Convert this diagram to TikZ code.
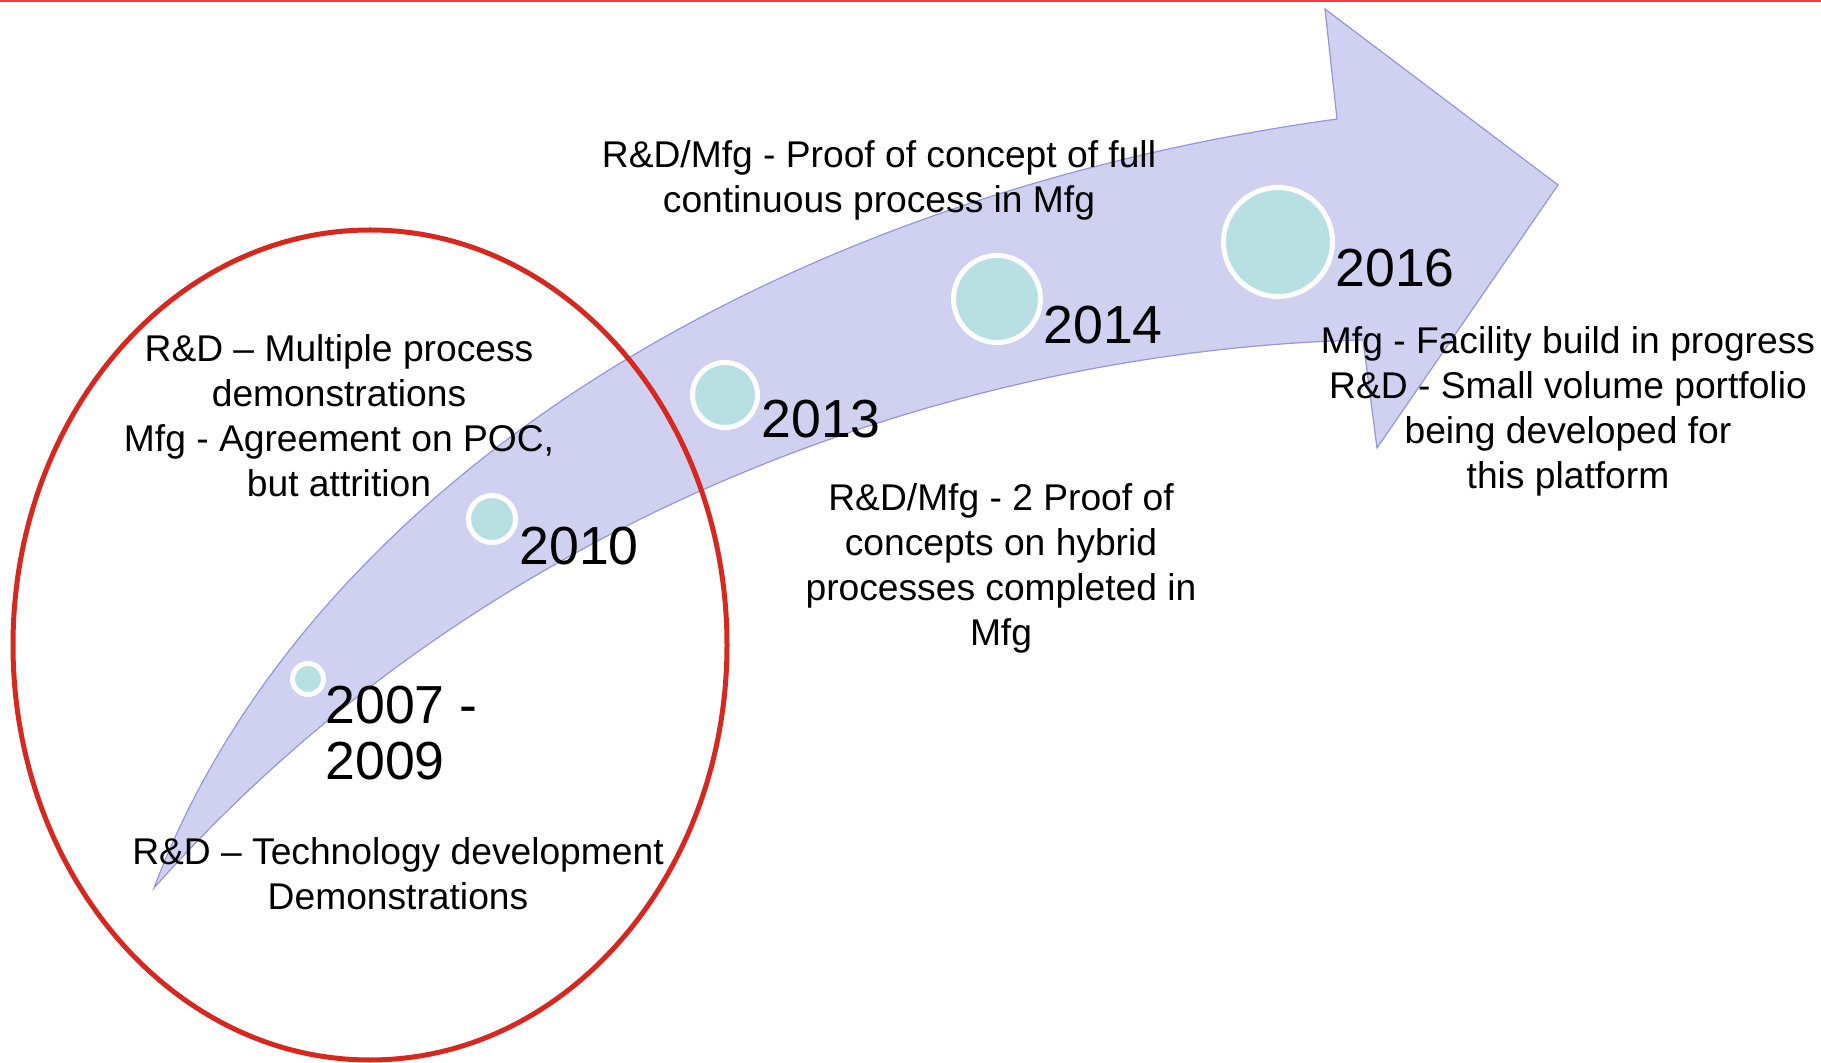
\documentclass[tikz,border=0pt]{standalone}
\usepackage{fontspec}
\setmainfont{Liberation Sans}
\usepackage{xcolor}
\definecolor{bandfill}{RGB}{208,208,240}
\definecolor{bandedge}{RGB}{150,150,220}
\definecolor{dotfill}{RGB}{184,223,225}
\definecolor{ringred}{RGB}{214,40,30}
\definecolor{topred}{RGB}{238,64,64}
\tikzset{
  milestone/.style={circle,fill=dotfill,draw=white,line width=2.5pt,inner sep=0pt},
  yearlabel/.style={anchor=west,inner sep=0pt,align=left,font=\fontsize{26.8}{28}\selectfont},
  notetext/.style={inner sep=0pt,align=center,font=\fontsize{18.6}{22.5}\selectfont},
}
\begin{document}
\begin{tikzpicture}[x=0.5pt,y=-0.5pt]
        \useasboundingbox (0,0) rectangle (1821,1063);
        \def\tailx{154}
        \def\taily{888}
        \draw[topred,line width=1pt] (0,1) -- (1821,1);
        % curved arrow
        \draw[bandedge,fill=bandfill,line width=0.6pt,line join=miter]
          (\tailx,\taily) .. controls (300,500) and (750,200) .. (1337,119)
          -- (1325,9) -- (1558,185) -- (1377,448) -- (1363,340)
          .. controls (950,350) and (480,520) .. (\tailx,\taily) -- cycle;
        % red ellipse round the early years
        \draw[ringred,line width=2.5pt] (370,645) ellipse [x radius=357, y radius=415];
        % milestones
        \node[milestone,minimum size=15.5pt] (m0709) at (308,679) {};
        \node[milestone,minimum size=23.5pt] (m2010) at (492,519) {};
        \node[milestone,minimum size=32.5pt] (m2013) at (725,395) {};
        \node[milestone,minimum size=43.5pt] (m2014) at (997,299) {};
        \node[milestone,minimum size=54.5pt] (m2016) at (1278,242) {};
        \node[yearlabel] (y0709) at (325,733) {2007 -\\2009};
        \node[yearlabel] (y2010) at (519,546) {2010};
        \node[yearlabel] (y2013) at (761,419) {2013};
        \node[yearlabel] (y2014) at (1043,325) {2014};
        \node[yearlabel] (y2016) at (1335,268) {2016};
        % notes
        \node[notetext] (n0709) at (398,874) {R\&D – Technology development\\Demonstrations};
        \node[notetext] (n2010) at (339,416) {R\&D – Multiple process\\demonstrations\\Mfg - Agreement on POC,\\but attrition};
        \node[notetext] (n2013) at (1001,568) {R\&D/Mfg - 2 Proof of\\concepts on hybrid\\processes completed in\\Mfg};
        \node[notetext] (n2014) at (879,180) {R\&D/Mfg - Proof of concept of full\\continuous process in Mfg};
        \node[notetext] (n2016) at (1568,411) {Mfg - Facility build in progress\\R\&D - Small volume portfolio\\being developed for\\this platform};
\end{tikzpicture}
\end{document}
